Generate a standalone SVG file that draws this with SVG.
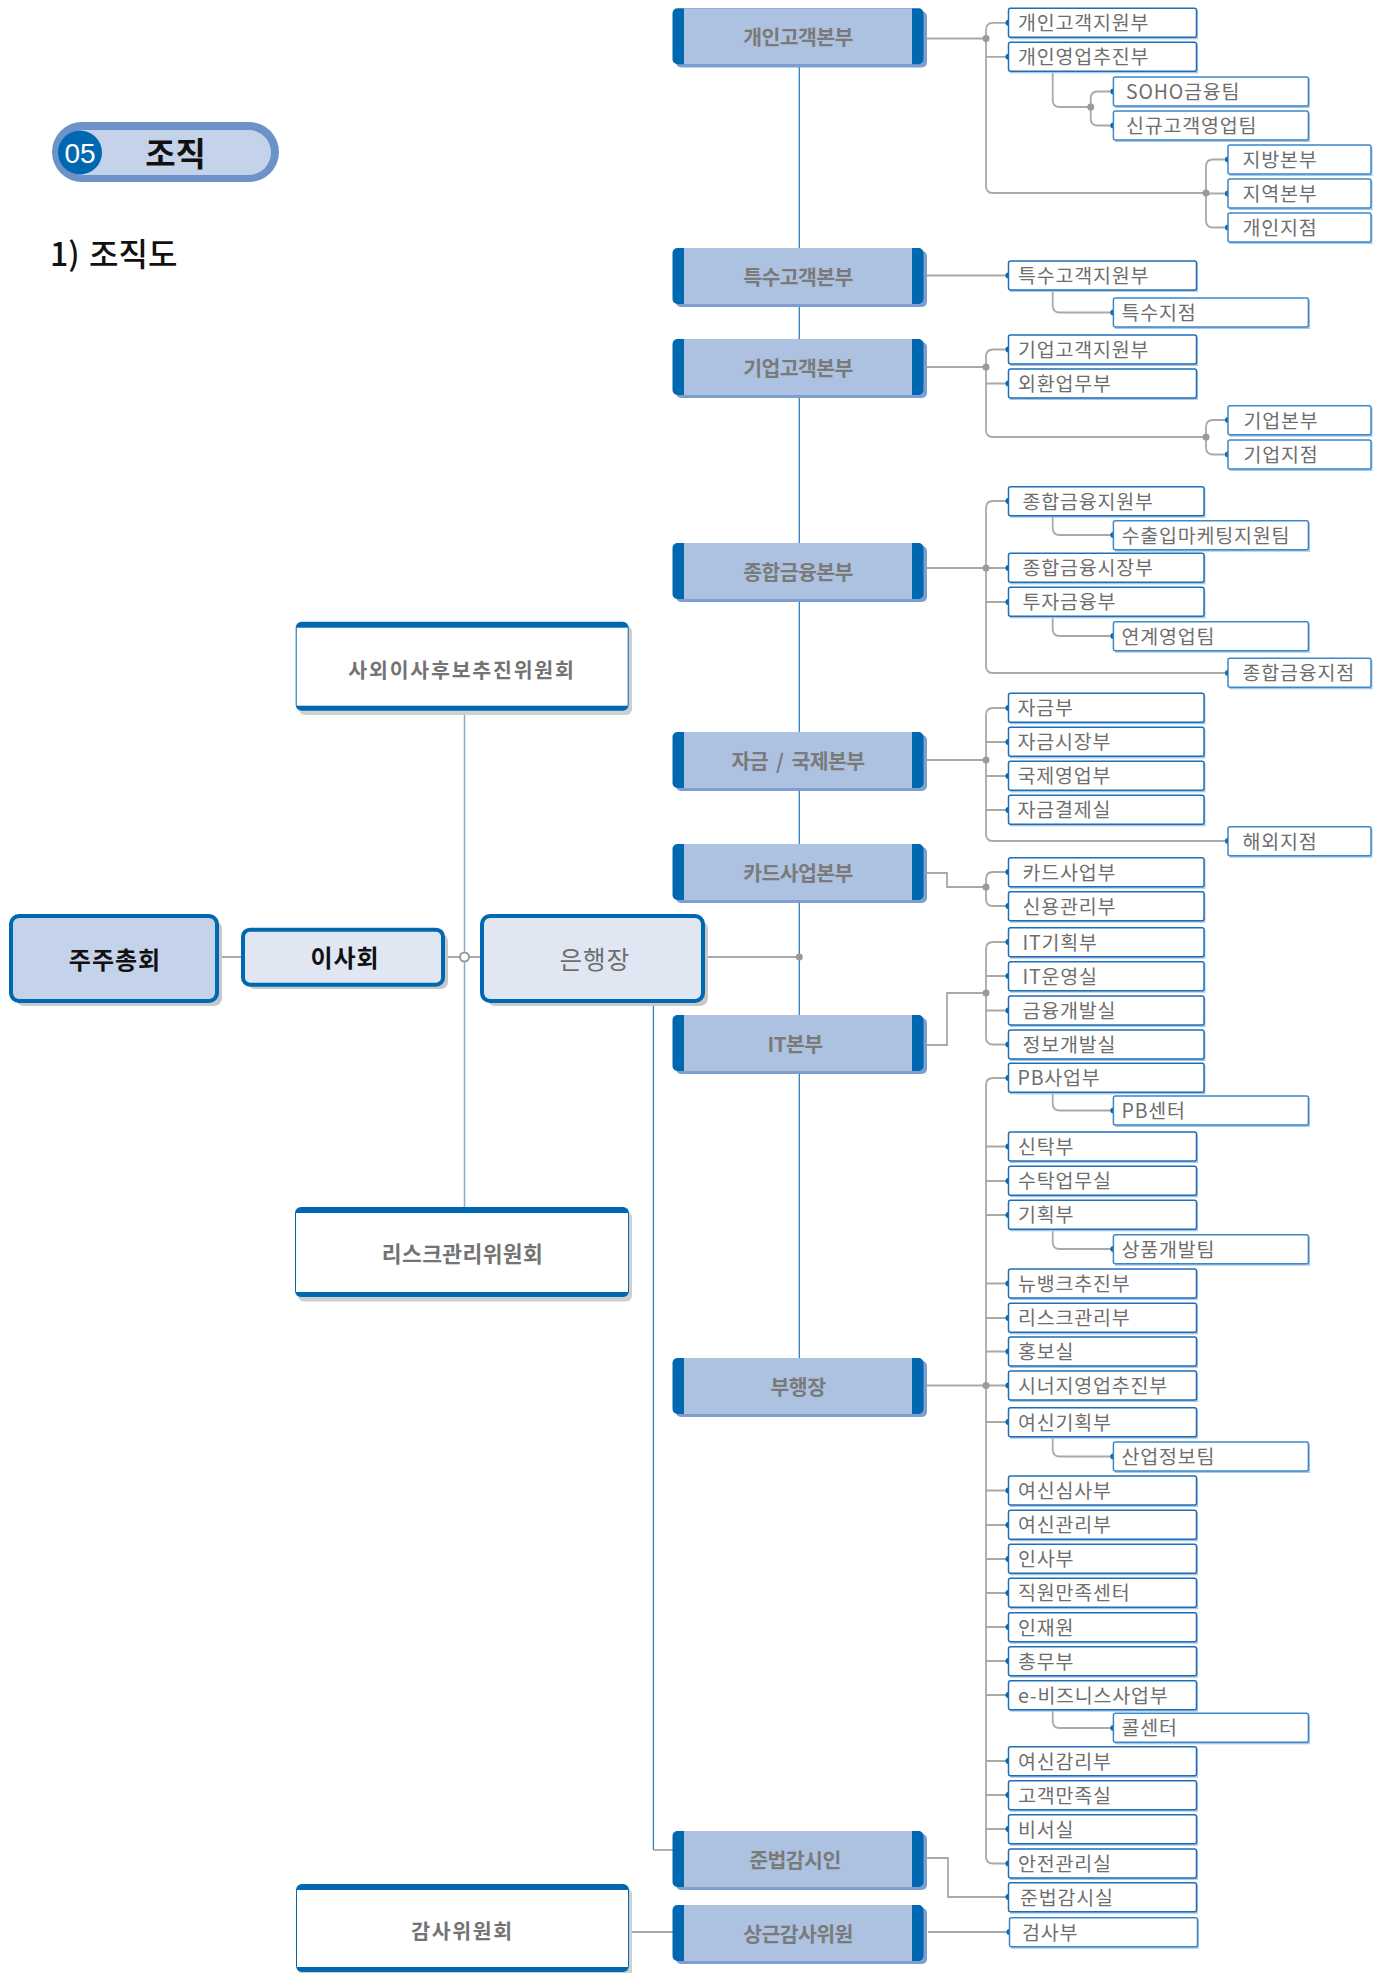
<svg xmlns="http://www.w3.org/2000/svg" width="1384" height="1973" viewBox="0 0 1384 1973">
<style>
text{font-family:"Noto Sans CJK KR","Noto Sans",sans-serif}
.t{font-size:19.5px;fill:#6e6e6e;letter-spacing:0.8px}
.mt{font-size:20.5px;fill:#7a7a7a;font-weight:700;text-anchor:middle;letter-spacing:-0.6px}
.ct{font-size:20.5px;fill:#737373;font-weight:700;text-anchor:middle}
.b{fill:#fff;stroke:#1f6fb6;stroke-width:1.5}
.b2{fill:#fff;stroke:#3d88c8;stroke-width:1.5}
.bs{fill:#a9c8e8}
.msh{fill:#7c9fd0}
.mbar{fill:#0068b0}
.mfill{fill:#adc2e1}
.c{fill:none;stroke:#a9a9a9;stroke-width:1.8}
.v{fill:none;stroke:#2f7fc3;stroke-width:1.3}
.lv{fill:none;stroke:#84acd6;stroke-width:1.5}
.d{fill:#0068b0}
.j{fill:#9a9a9a}
.csh{fill:#cfcfcf}
</style>

<g id="title">
<rect x="52" y="122" width="227" height="60" rx="30" fill="#6b93c9"/>
<rect x="60" y="130" width="211" height="45" rx="22.5" fill="#c5d3ea"/>
<circle cx="80" cy="152.5" r="22" fill="#0068b0"/>
<text x="80" y="163" font-size="28" fill="#fff" text-anchor="middle" style="font-family:'Liberation Sans',Arial,sans-serif">05</text>
<text x="175.5" y="166" font-size="33" font-weight="700" fill="#111" text-anchor="middle">조직</text>
<text y="266" font-size="32" fill="#111" font-weight="500"><tspan x="50">1)</tspan><tspan x="89">조직도</tspan></text>
</g>

<g id="connectors">
<path class="lv" d="M464.5,711 V1207"/>
<path class="c" d="M219,957 H241 M445,957 H482"/>
<circle cx="464.5" cy="957" r="4.5" fill="#fff" stroke="#9a9a9a" stroke-width="2"/>
<path class="c" d="M705,957 H799.3"/>
<path class="v" d="M799.3,64 V1358"/>
<circle class="j" cx="799.3" cy="957" r="3.5"/>
<path class="v" d="M653.4,1003 V1850"/>
<path class="c" d="M653.4,1850 H674"/>
<path class="c" d="M629,1932 H674"/>
<path class="c" d="M924,38.5 H986 M1008.5,22.8 H993 Q986,22.8 986,29.8 V186 Q986,193 993,193 H1206 M986,56.8 H1008.5"/>
<path class="c" d="M1052.7,71.3 V100 Q1052.7,107 1059.7,107 H1090.7 M1113.4,91.5 H1097.7 Q1090.7,91.5 1090.7,98.5 V118.5 Q1090.7,125.5 1097.7,125.5 H1113.4"/>
<path class="c" d="M1228,159.5 H1213 Q1206,159.5 1206,166.5 V220.5 Q1206,227.5 1213,227.5 H1228 M1206,193.5 H1228"/>
<circle class="j" cx="986" cy="38.5" r="3.5"/><circle class="j" cx="1090.7" cy="107" r="3.5"/><circle class="j" cx="1206" cy="193" r="3.5"/>
<path class="c" d="M924,275.5 H1008.5 M1052.7,290 V305.5 Q1052.7,312.5 1059.7,312.5 H1113.4"/>
<path class="c" d="M924,367 H986 M1008.5,349.5 H993 Q986,349.5 986,356.5 V430 Q986,437 993,437 H1206 M986,383.5 H1008.5"/>
<path class="c" d="M1228,420 H1213 Q1206,420 1206,427 V447.5 Q1206,454.5 1213,454.5 H1228"/>
<circle class="j" cx="986" cy="367" r="3.5"/><circle class="j" cx="1206" cy="437" r="3.5"/>
<path class="c" d="M924,568 H1008.5 M1008.5,501 H993 Q986,501 986,508 V666 Q986,673 993,673 H1228 M986,602 H1008.5"/>
<path class="c" d="M1052.7,515.7 V528 Q1052.7,535 1059.7,535 H1113.4 M1052.7,616.3 V629 Q1052.7,636 1059.7,636 H1113.4"/>
<circle class="j" cx="986" cy="568" r="3.5"/>
<path class="c" d="M924,760 H986 M1008.5,708 H993 Q986,708 986,715 V834 Q986,841 993,841 H1228 M986,742 H1008.5 M986,776 H1008.5 M986,810 H1008.5"/>
<circle class="j" cx="986" cy="760" r="3.5"/>
<path class="c" d="M924,873 H947 V887 H986 M1008.5,872 H993 Q986,872 986,879 V899 Q986,906 993,906 H1008.5"/>
<circle class="j" cx="986" cy="887" r="3.5"/>
<path class="c" d="M924,1045 H947 V993 H986 M1008.5,942 H993 Q986,942 986,949 V1037.5 Q986,1044.5 993,1044.5 H1008.5 M986,976 H1008.5 M986,1010.5 H1008.5"/>
<circle class="j" cx="986" cy="993" r="3.5"/>
<path class="c" d="M924,1385.5 H1008.5 M1008.5,1078 H993 Q986,1078 986,1085 V1856.5 Q986,1863.5 993,1863.5 H1008.5"/>
<path class="c" d="M986,1146.5 H1008.5 M986,1181 H1008.5 M986,1215 H1008.5 M986,1283.5 H1008.5 M986,1318 H1008.5 M986,1351.5 H1008.5 M986,1422 H1008.5 M986,1490.5 H1008.5 M986,1525 H1008.5 M986,1559 H1008.5 M986,1593 H1008.5 M986,1627 H1008.5 M986,1661 H1008.5 M986,1695 H1008.5 M986,1761 H1008.5 M986,1795 H1008.5 M986,1829 H1008.5"/>
<path class="c" d="M1052.7,1092.3 V1103.5 Q1052.7,1110.5 1059.7,1110.5 H1113.4 M1052.7,1229.3 V1242 Q1052.7,1249 1059.7,1249 H1113.4 M1052.7,1436.7 V1449.5 Q1052.7,1456.5 1059.7,1456.5 H1113.4 M1052.7,1709.7 V1721 Q1052.7,1728 1059.7,1728 H1113.4"/>
<circle class="j" cx="986" cy="1385.5" r="3.5"/>
<path class="c" d="M925,1858 H948 V1897 H1008.5 M928,1932 H1009.5"/>
<g class="d">
<circle cx="1008.5" cy="22.8" r="3"/><circle cx="1008.5" cy="56.8" r="3"/><circle cx="1113.4" cy="91.5" r="3"/><circle cx="1113.4" cy="125.5" r="3"/>
<circle cx="1228" cy="159.5" r="3"/><circle cx="1228" cy="193.5" r="3"/><circle cx="1228" cy="227.5" r="3"/>
<circle cx="1008.5" cy="275.5" r="3"/><circle cx="1113.4" cy="312.5" r="3"/>
<circle cx="1008.5" cy="349.5" r="3"/><circle cx="1008.5" cy="383.5" r="3"/><circle cx="1228" cy="420" r="3"/><circle cx="1228" cy="454.5" r="3"/>
<circle cx="1008.5" cy="501" r="3"/><circle cx="1113.4" cy="535" r="3"/><circle cx="1008.5" cy="568" r="3"/><circle cx="1008.5" cy="602" r="3"/><circle cx="1113.4" cy="636" r="3"/><circle cx="1228" cy="673" r="3"/>
<circle cx="1008.5" cy="708" r="3"/><circle cx="1008.5" cy="742" r="3"/><circle cx="1008.5" cy="776" r="3"/><circle cx="1008.5" cy="810" r="3"/><circle cx="1228" cy="841" r="3"/>
<circle cx="1008.5" cy="872" r="3"/><circle cx="1008.5" cy="906" r="3"/>
<circle cx="1008.5" cy="942" r="3"/><circle cx="1008.5" cy="976" r="3"/><circle cx="1008.5" cy="1010.5" r="3"/><circle cx="1008.5" cy="1044.5" r="3"/>
<circle cx="1008.5" cy="1078" r="3"/><circle cx="1113.4" cy="1110.5" r="3"/><circle cx="1008.5" cy="1146.5" r="3"/><circle cx="1008.5" cy="1181" r="3"/><circle cx="1008.5" cy="1215" r="3"/><circle cx="1113.4" cy="1249" r="3"/>
<circle cx="1008.5" cy="1283.5" r="3"/><circle cx="1008.5" cy="1318" r="3"/><circle cx="1008.5" cy="1351.5" r="3"/><circle cx="1008.5" cy="1385.5" r="3"/><circle cx="1008.5" cy="1422" r="3"/><circle cx="1113.4" cy="1456.5" r="3"/>
<circle cx="1008.5" cy="1490.5" r="3"/><circle cx="1008.5" cy="1525" r="3"/><circle cx="1008.5" cy="1559" r="3"/><circle cx="1008.5" cy="1593" r="3"/><circle cx="1008.5" cy="1627" r="3"/><circle cx="1008.5" cy="1661" r="3"/><circle cx="1008.5" cy="1695" r="3"/><circle cx="1113.4" cy="1728" r="3"/>
<circle cx="1008.5" cy="1761" r="3"/><circle cx="1008.5" cy="1795" r="3"/><circle cx="1008.5" cy="1829" r="3"/><circle cx="1008.5" cy="1863.5" r="3"/><circle cx="1008.5" cy="1897" r="3"/><circle cx="1009.5" cy="1932" r="3"/>
</g>
</g>

<g id="n-jujuchonghoe">
<rect x="16" y="921" width="206" height="85" rx="8" fill="#c8c8c8"/>
<rect x="11" y="916" width="206" height="85" rx="8" fill="#c5d3ea" stroke="#0068b0" stroke-width="4"/>
<text x="115" y="969" font-size="24" font-weight="700" fill="#111" text-anchor="middle" letter-spacing="1">주주총회</text>
</g>
<g id="n-isahoe">
<rect x="248" y="934" width="200" height="55" rx="7" fill="#c8c8c8"/>
<rect x="243" y="929.7" width="200" height="55" rx="7" fill="#e0e7f3" stroke="#0068b0" stroke-width="4"/>
<text x="345" y="966.5" font-size="24" font-weight="700" fill="#111" text-anchor="middle" letter-spacing="1">이사회</text>
</g>
<g id="n-haengjang">
<rect x="487" y="921" width="221" height="85" rx="8" fill="#c8c8c8"/>
<rect x="482" y="916" width="221" height="85" rx="8" fill="#e0e7f3" stroke="#0068b0" stroke-width="4"/>
<text x="595" y="969" font-size="24.5" fill="#6e6e6e" text-anchor="middle" letter-spacing="1.2">은행장</text>
</g>

<g id="n-saoe">
<rect class="csh" x="299" y="626" width="333" height="89" rx="6"/>
<rect x="295.7" y="621.7" width="333" height="89" rx="6" fill="#0068b0"/>
<rect x="296.7" y="627.7" width="331" height="78" fill="#fff"/>
<text class="ct" x="462" y="677.5" letter-spacing="1.8">사외이사후보추진위원회</text>
</g>
<g id="n-risk-com">
<rect class="csh" x="298" y="1211.5" width="334" height="90" rx="6"/>
<rect x="295" y="1207" width="334" height="90" rx="6" fill="#0068b0"/>
<rect x="296" y="1213" width="332" height="79" fill="#fff"/>
<text class="ct" x="462.5" y="1262" style="font-size:21.5px" letter-spacing="0.4">리스크관리위원회</text>
</g>
<g id="n-gamsa-com">
<rect class="csh" x="299" y="1888" width="333" height="90" rx="6"/>
<rect x="296" y="1884" width="333" height="88" rx="6" fill="#0068b0"/>
<rect x="297" y="1890" width="331" height="77" fill="#fff"/>
<text class="ct" x="462.5" y="1939" letter-spacing="1.6">감사위원회</text>
</g>

<g id="m-gaein"><rect class="msh" x="676" y="11.5" width="251" height="56" rx="5"/><rect class="mbar" x="672.5" y="8.3" width="251" height="56" rx="5"/><rect class="mfill" x="684" y="8.3" width="228" height="56"/><text class="mt" x="798" y="44.8">개인고객본부</text></g>
<g id="m-teuksu"><rect class="msh" x="676" y="251" width="251" height="56" rx="5"/><rect class="mbar" x="672.5" y="248" width="251" height="56" rx="5"/><rect class="mfill" x="684" y="248" width="228" height="56"/><text class="mt" x="798" y="284.5">특수고객본부</text></g>
<g id="m-gieop"><rect class="msh" x="676" y="342" width="251" height="56" rx="5"/><rect class="mbar" x="672.5" y="339" width="251" height="56" rx="5"/><rect class="mfill" x="684" y="339" width="228" height="56"/><text class="mt" x="798" y="375.5">기업고객본부</text></g>
<g id="m-jonghap"><rect class="msh" x="676" y="546" width="251" height="56" rx="5"/><rect class="mbar" x="672.5" y="543" width="251" height="56" rx="5"/><rect class="mfill" x="684" y="543" width="228" height="56"/><text class="mt" x="798" y="579.5">종합금융본부</text></g>
<g id="m-jageum"><rect class="msh" x="676" y="735" width="251" height="56" rx="5"/><rect class="mbar" x="672.5" y="732" width="251" height="56" rx="5"/><rect class="mfill" x="684" y="732" width="228" height="56"/><text class="mt" x="798" y="768.5" xml:space="preserve">자금  /  국제본부</text></g>
<g id="m-card"><rect class="msh" x="676" y="847" width="251" height="56" rx="5"/><rect class="mbar" x="672.5" y="844" width="251" height="56" rx="5"/><rect class="mfill" x="684" y="844" width="228" height="56"/><text class="mt" x="798" y="880.5">카드사업본부</text></g>
<g id="m-it"><rect class="msh" x="676" y="1018" width="251" height="56" rx="5"/><rect class="mbar" x="672.5" y="1015" width="251" height="56" rx="5"/><rect class="mfill" x="684" y="1015" width="228" height="56"/><text class="mt" x="795" y="1051.5" letter-spacing="1">IT본부</text></g>
<g id="m-buhaeng"><rect class="msh" x="676" y="1361" width="251" height="56" rx="5"/><rect class="mbar" x="672.5" y="1358" width="251" height="56" rx="5"/><rect class="mfill" x="684" y="1358" width="228" height="56"/><text class="mt" x="798" y="1394.5">부행장</text></g>
<g id="m-junbeop"><rect class="msh" x="676" y="1834" width="251" height="56" rx="5"/><rect class="mbar" x="672.5" y="1831" width="251" height="56" rx="5"/><rect class="mfill" x="684" y="1831" width="228" height="56"/><text class="mt" x="795" y="1867.5">준법감시인</text></g>
<g id="m-sanggeun"><rect class="msh" x="676" y="1908" width="251" height="56" rx="5"/><rect class="mbar" x="672.5" y="1905" width="251" height="56" rx="5"/><rect class="mfill" x="684" y="1905" width="228" height="56"/><text class="mt" x="798" y="1941.5">상근감사위원</text></g>

<g id="d-1"><rect class="bs" x="1010" y="10.3" width="188" height="29"/><rect class="b" x="1008.5" y="8.3" width="188" height="29" rx="2"/><text class="t" x="1018" y="30.3">개인고객지원부</text></g>
<g id="d-2"><rect class="bs" x="1010" y="44.3" width="188" height="29"/><rect class="b" x="1008.5" y="42.3" width="188" height="29" rx="2"/><text class="t" x="1018" y="64.3">개인영업추진부</text></g>
<g id="d-3"><rect class="bs" x="1010" y="263" width="188" height="29"/><rect class="b" x="1008.5" y="261" width="188" height="29" rx="2"/><text class="t" x="1018" y="283">특수고객지원부</text></g>
<g id="d-4"><rect class="bs" x="1010" y="337" width="188" height="29"/><rect class="b" x="1008.5" y="335" width="188" height="29" rx="2"/><text class="t" x="1018" y="357">기업고객지원부</text></g>
<g id="d-5"><rect class="bs" x="1010" y="371" width="188" height="29"/><rect class="b" x="1008.5" y="369" width="188" height="29" rx="2"/><text class="t" x="1018" y="391">외환업무부</text></g>

<g id="d-6"><rect class="bs" x="1010" y="488.7" width="195.5" height="29"/><rect class="b" x="1008.5" y="486.7" width="195.5" height="29" rx="2"/><text class="t" x="1022.5" y="508.7">종합금융지원부</text></g>
<g id="d-7"><rect class="bs" x="1010" y="555.3" width="195.5" height="29"/><rect class="b" x="1008.5" y="553.3" width="195.5" height="29" rx="2"/><text class="t" x="1022.5" y="575.3">종합금융시장부</text></g>
<g id="d-8"><rect class="bs" x="1010" y="589.3" width="195.5" height="29"/><rect class="b" x="1008.5" y="587.3" width="195.5" height="29" rx="2"/><text class="t" x="1022.5" y="609.3">투자금융부</text></g>
<g id="d-9"><rect class="bs" x="1010" y="695.3" width="195.5" height="29"/><rect class="b" x="1008.5" y="693.3" width="195.5" height="29" rx="2"/><text class="t" x="1017.5" y="715.3">자금부</text></g>
<g id="d-10"><rect class="bs" x="1010" y="729.3" width="195.5" height="29"/><rect class="b" x="1008.5" y="727.3" width="195.5" height="29" rx="2"/><text class="t" x="1017.5" y="749.3">자금시장부</text></g>
<g id="d-11"><rect class="bs" x="1010" y="763.3" width="195.5" height="29"/><rect class="b" x="1008.5" y="761.3" width="195.5" height="29" rx="2"/><text class="t" x="1017.5" y="783.3">국제영업부</text></g>
<g id="d-12"><rect class="bs" x="1010" y="797.3" width="195.5" height="29"/><rect class="b" x="1008.5" y="795.3" width="195.5" height="29" rx="2"/><text class="t" x="1017.5" y="817.3">자금결제실</text></g>
<g id="d-13"><rect class="bs" x="1010" y="859.7" width="195.5" height="29"/><rect class="b" x="1008.5" y="857.7" width="195.5" height="29" rx="2"/><text class="t" x="1022.5" y="879.7">카드사업부</text></g>
<g id="d-14"><rect class="bs" x="1010" y="893.7" width="195.5" height="29"/><rect class="b" x="1008.5" y="891.7" width="195.5" height="29" rx="2"/><text class="t" x="1022.5" y="913.7">신용관리부</text></g>
<g id="d-15"><rect class="bs" x="1010" y="929.7" width="195.5" height="29"/><rect class="b" x="1008.5" y="927.7" width="195.5" height="29" rx="2"/><text class="t" x="1022.5" y="949.7">IT기획부</text></g>
<g id="d-16"><rect class="bs" x="1010" y="963.7" width="195.5" height="29"/><rect class="b" x="1008.5" y="961.7" width="195.5" height="29" rx="2"/><text class="t" x="1022.5" y="983.7">IT운영실</text></g>
<g id="d-17"><rect class="bs" x="1010" y="998" width="195.5" height="29"/><rect class="b" x="1008.5" y="996" width="195.5" height="29" rx="2"/><text class="t" x="1022.5" y="1018">금융개발실</text></g>
<g id="d-18"><rect class="bs" x="1010" y="1032" width="195.5" height="29"/><rect class="b" x="1008.5" y="1030" width="195.5" height="29" rx="2"/><text class="t" x="1022.5" y="1052">정보개발실</text></g>
<g id="d-19"><rect class="bs" x="1010" y="1065.3" width="195.5" height="29"/><rect class="b" x="1008.5" y="1063.3" width="195.5" height="29" rx="2"/><text class="t" x="1017.5" y="1085.3">PB사업부</text></g>

<g id="d-20"><rect class="bs" x="1010" y="1134" width="188" height="29"/><rect class="b" x="1008.5" y="1132" width="188" height="29" rx="2"/><text class="t" x="1018" y="1154">신탁부</text></g>
<g id="d-21"><rect class="bs" x="1010" y="1168.3" width="188" height="29"/><rect class="b" x="1008.5" y="1166.3" width="188" height="29" rx="2"/><text class="t" x="1018" y="1188.3">수탁업무실</text></g>
<g id="d-22"><rect class="bs" x="1010" y="1202.3" width="188" height="29"/><rect class="b" x="1008.5" y="1200.3" width="188" height="29" rx="2"/><text class="t" x="1018" y="1222.3">기획부</text></g>
<g id="d-23"><rect class="bs" x="1010" y="1271" width="188" height="29"/><rect class="b" x="1008.5" y="1269" width="188" height="29" rx="2"/><text class="t" x="1018" y="1291">뉴뱅크추진부</text></g>
<g id="d-24"><rect class="bs" x="1010" y="1305.3" width="188" height="29"/><rect class="b" x="1008.5" y="1303.3" width="188" height="29" rx="2"/><text class="t" x="1018" y="1325.3">리스크관리부</text></g>
<g id="d-25"><rect class="bs" x="1010" y="1339" width="188" height="29"/><rect class="b" x="1008.5" y="1337" width="188" height="29" rx="2"/><text class="t" x="1018" y="1359">홍보실</text></g>
<g id="d-26"><rect class="bs" x="1010" y="1373" width="188" height="29"/><rect class="b" x="1008.5" y="1371" width="188" height="29" rx="2"/><text class="t" x="1018" y="1393">시너지영업추진부</text></g>
<g id="d-27"><rect class="bs" x="1010" y="1409.7" width="188" height="29"/><rect class="b" x="1008.5" y="1407.7" width="188" height="29" rx="2"/><text class="t" x="1018" y="1429.7">여신기획부</text></g>
<g id="d-28"><rect class="bs" x="1010" y="1478" width="188" height="29"/><rect class="b" x="1008.5" y="1476" width="188" height="29" rx="2"/><text class="t" x="1018" y="1498">여신심사부</text></g>
<g id="d-29"><rect class="bs" x="1010" y="1512.3" width="188" height="29"/><rect class="b" x="1008.5" y="1510.3" width="188" height="29" rx="2"/><text class="t" x="1018" y="1532.3">여신관리부</text></g>
<g id="d-30"><rect class="bs" x="1010" y="1546.3" width="188" height="29"/><rect class="b" x="1008.5" y="1544.3" width="188" height="29" rx="2"/><text class="t" x="1018" y="1566.3">인사부</text></g>
<g id="d-31"><rect class="bs" x="1010" y="1580.3" width="188" height="29"/><rect class="b" x="1008.5" y="1578.3" width="188" height="29" rx="2"/><text class="t" x="1018" y="1600.3">직원만족센터</text></g>
<g id="d-32"><rect class="bs" x="1010" y="1614.7" width="188" height="29"/><rect class="b" x="1008.5" y="1612.7" width="188" height="29" rx="2"/><text class="t" x="1018" y="1634.7">인재원</text></g>
<g id="d-33"><rect class="bs" x="1010" y="1648.7" width="188" height="29"/><rect class="b" x="1008.5" y="1646.7" width="188" height="29" rx="2"/><text class="t" x="1018" y="1668.7">총무부</text></g>
<g id="d-34"><rect class="bs" x="1010" y="1682.7" width="188" height="29"/><rect class="b" x="1008.5" y="1680.7" width="188" height="29" rx="2"/><text class="t" x="1018" y="1702.7">e-비즈니스사업부</text></g>
<g id="d-35"><rect class="bs" x="1010" y="1748.7" width="188" height="29"/><rect class="b" x="1008.5" y="1746.7" width="188" height="29" rx="2"/><text class="t" x="1018" y="1768.7">여신감리부</text></g>
<g id="d-36"><rect class="bs" x="1010" y="1782.7" width="188" height="29"/><rect class="b" x="1008.5" y="1780.7" width="188" height="29" rx="2"/><text class="t" x="1018" y="1802.7">고객만족실</text></g>
<g id="d-37"><rect class="bs" x="1010" y="1816.7" width="188" height="29"/><rect class="b" x="1008.5" y="1814.7" width="188" height="29" rx="2"/><text class="t" x="1018" y="1836.7">비서실</text></g>
<g id="d-38"><rect class="bs" x="1010" y="1851" width="188" height="29"/><rect class="b" x="1008.5" y="1849" width="188" height="29" rx="2"/><text class="t" x="1018" y="1871">안전관리실</text></g>
<g id="d-39"><rect class="bs" x="1010" y="1884.7" width="188" height="29"/><rect class="b" x="1008.5" y="1882.7" width="188" height="29" rx="2"/><text class="t" x="1020" y="1904.7">준법감시실</text></g>
<g id="d-40"><rect class="bs" x="1011" y="1919.7" width="188" height="29"/><rect class="b2" x="1009.5" y="1917.7" width="188" height="29" rx="2"/><text class="t" x="1022" y="1939.7">검사부</text></g>

<g id="s-1"><rect class="bs" x="1115" y="79" width="195" height="29"/><rect class="b2" x="1113.4" y="77" width="195" height="29" rx="2"/><text class="t" x="1126" y="99">SOHO금융팀</text></g>
<g id="s-2"><rect class="bs" x="1115" y="113" width="195" height="29"/><rect class="b2" x="1113.4" y="111" width="195" height="29" rx="2"/><text class="t" x="1126" y="133">신규고객영업팀</text></g>
<g id="s-3"><rect class="bs" x="1115" y="300" width="195" height="29"/><rect class="b2" x="1113.4" y="298" width="195" height="29" rx="2"/><text class="t" x="1121.5" y="320">특수지점</text></g>
<g id="s-4"><rect class="bs" x="1115" y="522.7" width="195" height="29"/><rect class="b2" x="1113.4" y="520.7" width="195" height="29" rx="2"/><text class="t" x="1121.5" y="542.7">수출입마케팅지원팀</text></g>
<g id="s-5"><rect class="bs" x="1115" y="623.7" width="195" height="29"/><rect class="b2" x="1113.4" y="621.7" width="195" height="29" rx="2"/><text class="t" x="1121.5" y="643.7">연계영업팀</text></g>
<g id="s-6"><rect class="bs" x="1115" y="1098" width="195" height="29"/><rect class="b2" x="1113.4" y="1096" width="195" height="29" rx="2"/><text class="t" x="1121.5" y="1118">PB센터</text></g>
<g id="s-7"><rect class="bs" x="1115" y="1236.7" width="195" height="29"/><rect class="b2" x="1113.4" y="1234.7" width="195" height="29" rx="2"/><text class="t" x="1121.5" y="1256.7">상품개발팀</text></g>
<g id="s-8"><rect class="bs" x="1115" y="1444" width="195" height="29"/><rect class="b2" x="1113.4" y="1442" width="195" height="29" rx="2"/><text class="t" x="1121.5" y="1464">산업정보팀</text></g>
<g id="s-9"><rect class="bs" x="1115" y="1715.3" width="195" height="29"/><rect class="b2" x="1113.4" y="1713.3" width="195" height="29" rx="2"/><text class="t" x="1121.5" y="1735.3">콜센터</text></g>

<g id="o-1"><rect class="bs" x="1229.5" y="147" width="143" height="29"/><rect class="b2" x="1228" y="145" width="143" height="29" rx="2"/><text class="t" x="1242.5" y="167">지방본부</text></g>
<g id="o-2"><rect class="bs" x="1229.5" y="181" width="143" height="29"/><rect class="b2" x="1228" y="179" width="143" height="29" rx="2"/><text class="t" x="1242.5" y="201">지역본부</text></g>
<g id="o-3"><rect class="bs" x="1229.5" y="215" width="143" height="29"/><rect class="b2" x="1228" y="213" width="143" height="29" rx="2"/><text class="t" x="1242.5" y="235">개인지점</text></g>
<g id="o-4"><rect class="bs" x="1229.5" y="407.7" width="143" height="29"/><rect class="b2" x="1228" y="405.7" width="143" height="29" rx="2"/><text class="t" x="1243.5" y="427.7">기업본부</text></g>
<g id="o-5"><rect class="bs" x="1229.5" y="442" width="143" height="29"/><rect class="b2" x="1228" y="440" width="143" height="29" rx="2"/><text class="t" x="1243.5" y="462">기업지점</text></g>
<g id="o-6"><rect class="bs" x="1229.5" y="660.3" width="143" height="29"/><rect class="b2" x="1228" y="658.3" width="143" height="29" rx="2"/><text class="t" x="1242.5" y="680.3">종합금융지점</text></g>
<g id="o-7"><rect class="bs" x="1229.5" y="828.7" width="143" height="29"/><rect class="b2" x="1228" y="826.7" width="143" height="29" rx="2"/><text class="t" x="1242.5" y="848.7">해외지점</text></g>
</svg>
